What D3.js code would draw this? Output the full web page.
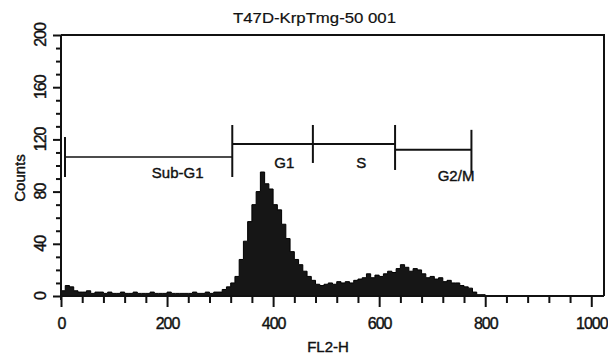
<!DOCTYPE html>
<html>
<head>
	<meta charset="utf-8">
	<title>T47D-KrpTmg-50 001</title>
	<script src="https://d3js.org/d3.v7.min.js"></script>
	<style type="text/css">
		body { margin: 0; background: #fff; }
		svg text { font-family: 'Liberation Sans', Arial, sans-serif; fill: #111; stroke: #111; stroke-width: 0.4px; }
	</style>
</head>
<body>
	<div id="chart"></div>
	<script type="text/javascript">
		// histogram: counts per 8-channel bin (FL2-H 0..1023)
		const binWidth = 8;
		const counts = [
			4, 8, 7, 4, 3, 3, 4, 2, 3, 3, 2, 3, 2, 2, 3, 2,
			2, 3, 2, 2, 2, 3, 2, 2, 2, 3, 2, 2, 2, 2, 2, 3,
			2, 2, 3, 2, 3, 3, 5, 7, 10, 15, 28, 42, 57, 70,
			80, 95, 86, 82, 70, 66, 55, 44, 34, 28, 24, 19, 15, 12, 9, 8,
			9, 10, 9, 11, 10, 11, 10, 12, 13, 14, 17, 14, 16, 15, 17, 19,
			18, 21, 24, 22, 19, 21, 20, 17, 14, 15, 13, 14, 11, 12, 10, 10,
			8, 7, 6, 3, 1, 1, 0, 0, 0, 0, 0, 0, 0, 0, 0, 0,
			0, 0, 0, 0, 0, 0, 0, 0, 0, 0, 0, 0, 0, 0, 0, 0
		];

		// gate markers
		const markerNames = ["Sub-G1", "G1", "S", "G2/M"];
		const markerStart = [7.5, 323, 475, 630];
		const markerEnd = [323, 475, 630, 774];
		const markerLevel = [106.5, 116.5, 116.5, 112];
		const markerLabelAt = [220, 421, 566, 745];

		const xTicks = d3.range(0, 1001, 40);
		const yTicks = d3.range(0, 201, 10);
		const xLabels = [0, 200, 400, 600, 800, 1000];
		const yLabels = [0, 40, 80, 120, 160, 200];

		const title = "T47D-KrpTmg-50 001";
		const xTitle = "FL2-H";
		const yTitle = "Counts";

		var w = 608;
		var h = 356;

		var x = d3.scaleLinear().domain([0, 1024]).range([61, 604]);
		var y = d3.scaleLinear().domain([0, 200]).range([296, 35]);

		var svg = d3.select('#chart')
			.append('svg')
			.attr('width', w)
			.attr('height', h);

		// histogram as a filled step area
		var pts = [];
		counts.forEach(function(c, i){
			pts.push([i * binWidth, c]);
			pts.push([(i + 1) * binWidth, c]);
		});
		var area = d3.area()
			.x(function(d){ return x(d[0]); })
			.y0(y(0))
			.y1(function(d){ return y(d[1]); });

		svg.append('path')
			.datum(pts)
			.attr('d', area)
			.attr('fill', '#161616')
			.attr('stroke', '#000')
			.attr('stroke-width', 1);

		// frame (top and right)
		svg.append('path')
			.attr('d', 'M' + x(0) + ',' + y(200) + 'H' + x(1024) + 'V' + y(0))
			.attr('fill', 'none')
			.attr('stroke', '#111')
			.attr('stroke-width', 2);

		// x axis
		var xAxis = svg.append('g')
			.attr('transform', 'translate(0,' + y(0) + ')')
			.call(d3.axisBottom(x)
				.tickValues(xTicks)
				.tickSize(7)
				.tickSizeOuter(0)
				.tickFormat(function(d){ return xLabels.indexOf(d) >= 0 ? d : ''; }));
		xAxis.select('.domain').attr('stroke', '#111').attr('stroke-width', 2)
			.attr('d', 'M' + x(0) + ',0H' + x(1024));
		xAxis.selectAll('.tick line')
			.attr('stroke', '#111').attr('stroke-width', 2)
			.attr('y2', function(d){ return xLabels.indexOf(d) >= 0 ? 11 : 7; });
		xAxis.selectAll('.tick text')
			.attr('y', 22)
			.attr('dy', '0.71em')
			.style('font-size', '16px')
			.style('letter-spacing', '-1px')
			.style('font-family', "'Liberation Sans', Arial, sans-serif")
			.attr('fill', '#111');

		// y axis
		var yAxis = svg.append('g')
			.attr('transform', 'translate(' + x(0) + ',0)')
			.call(d3.axisLeft(y)
				.tickValues(yTicks)
				.tickSize(5)
				.tickSizeOuter(0)
				.tickFormat(''));
		yAxis.select('.domain').attr('stroke', '#111').attr('stroke-width', 2)
			.attr('d', 'M0,' + (y(0) + 4) + 'V' + y(200));
		yAxis.selectAll('.tick line')
			.attr('stroke', '#111').attr('stroke-width', 2)
			.attr('x2', function(d){ return yLabels.indexOf(d) >= 0 ? -8 : -5; });

		svg.selectAll('.ylab')
			.data(yLabels)
			.enter()
			.append('text')
			.attr('class', 'ylab')
			.attr('transform', function(d){ return 'translate(46,' + y(d) + ') rotate(-90)'; })
			.attr('text-anchor', 'middle')
			.style('font-size', '16px')
			.style('letter-spacing', '-1px')
			.text(function(d){ return d; });

		// titles
		svg.append('text')
			.attr('x', 233).attr('y', 23)
			.attr('textLength', 163)
			.attr('lengthAdjust', 'spacingAndGlyphs')
			.style('font-size', '15px')
			.style('stroke-width', '0.2px')
			.text(title);

		svg.append('text')
			.attr('x', 328).attr('y', 352)
			.attr('text-anchor', 'middle')
			.style('font-size', '15px')
			.text(xTitle);

		svg.append('text')
			.attr('transform', 'translate(25,178) rotate(-90)')
			.attr('text-anchor', 'middle')
			.style('font-size', '15px')
			.text(yTitle);

		// markers
		var tickExtent = [[-20, 20], [-32, 20], [-19, 19], [-19, 26], [-20, 23]];
		var bounds = markerStart.concat([markerEnd[markerEnd.length - 1]]);
		var g = svg.append('g').attr('stroke', '#111');

		markerNames.forEach(function(name, i){
			g.append('line')
				.attr('x1', x(markerStart[i])).attr('x2', x(markerEnd[i]))
				.attr('y1', y(markerLevel[i])).attr('y2', y(markerLevel[i]))
				.attr('stroke-width', i == 0 ? 1.6 : 2);
			svg.append('text')
				.attr('x', x(markerLabelAt[i]))
				.attr('y', y(markerLevel[i]) + (i == 3 ? 31 : (i == 0 ? 21 : 24)))
				.attr('text-anchor', 'middle')
				.style('font-size', '15px')
				.text(name);
		});

		bounds.forEach(function(b, i){
			var lvl = markerLevel[Math.min(i, markerLevel.length - 1)];
			if (i > 0 && i < markerLevel.length) lvl = markerLevel[i - 1];
			g.append('line')
				.attr('x1', x(b)).attr('x2', x(b))
				.attr('y1', y(lvl) + tickExtent[i][0])
				.attr('y2', y(lvl) + tickExtent[i][1])
				.attr('stroke-width', 2);
		});
	</script>
</body>
</html>
